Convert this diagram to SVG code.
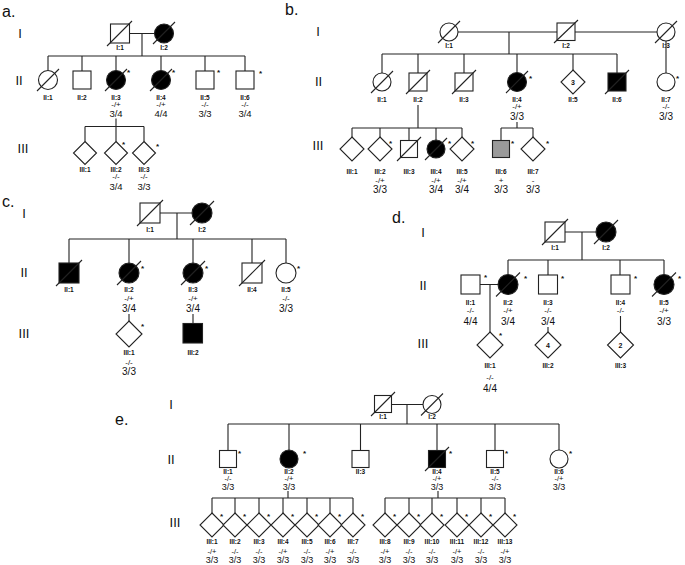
<svg xmlns="http://www.w3.org/2000/svg" width="685" height="565" viewBox="0 0 685 565">
<style>
.ln{stroke:#222;stroke-width:1.1;fill:none}
.o{fill:#fff;stroke:#222;stroke-width:1.1}
.f{fill:#000;stroke:#222;stroke-width:1.1}
.g{fill:#9a9a9a;stroke:#222;stroke-width:1.1}
.sl{stroke:#222;stroke-width:1.1}
text{font-family:'Liberation Sans',Arial,sans-serif;fill:#111;text-anchor:middle}
.id{font-size:6.5px;font-weight:bold}
.gt{font-size:8px}
.nm{font-size:10px}
.nma{font-size:9.5px}
.gte{font-size:7.5px}
.nme{font-size:9px}
.as{font-size:8px;font-weight:bold;text-anchor:start}
.gen{font-size:13px}
.pl{font-size:16px;text-anchor:start}
.ne{font-size:7px;font-weight:bold}
</style>
<rect width="685" height="565" fill="#fff"/>

<g id="labels">
<text class="pl" x="2" y="17">a.</text>
<text class="gen" x="20" y="37.5">I</text>
<text class="gen" x="19" y="85">II</text>
<text class="gen" x="23" y="153">III</text>
<text class="pl" x="285" y="15">b.</text>
<text class="gen" x="318" y="36">I</text>
<text class="gen" x="318.5" y="86">II</text>
<text class="gen" x="318" y="150">III</text>
<text class="pl" x="2" y="207">c.</text>
<text class="gen" x="24" y="218">I</text>
<text class="gen" x="24" y="277">II</text>
<text class="gen" x="24" y="338">III</text>
<text class="pl" x="392" y="223">d.</text>
<text class="gen" x="423" y="237">I</text>
<text class="gen" x="423" y="290">II</text>
<text class="gen" x="423" y="348">III</text>
<text class="pl" x="115" y="425">e.</text>
<text class="gen" x="171" y="409">I</text>
<text class="gen" x="171" y="464">II</text>
<text class="gen" x="175" y="527">III</text>
</g>

<g id="connectors" class="ln">
<path d="M129.5,33.5H154.5M142,33.5V56M48,56H245M48,56V70.5M82,56V71M116,56V70.5M161,56V70.5M205,56V71M245,56V71"/>
<path d="M116,118.5V126.5M85,126.5H144M85,126.5V141.5M116,126.5V141.5M144,126.5V141.5"/>
<path d="M458,32H557M575,32H657M509,32V54M382,54H617M382,54V73M418,54V73M464,54V73M517,54V73M573,54V70M617,54V73M666,41V73"/>
<path d="M418,105V128M352,128H462M352,128V137M380,128V137M409,128V140.5M436,128V140M462,128V137"/>
<path d="M517,122V128M501,128H533M501,128V140.5M533,128V137"/>
<path d="M160,213H192M177,213V239M69,239H286M69,239V263M129,239V263M193,239V263M252,239V263M286,239V263"/>
<path d="M129,314V321M193,314V323.5"/>
<path d="M565,232H596M582,232V260M508,260H664M508,260V274.5M548,260V275M620,260V275M664,260V274.5"/>
<path d="M480,284.5H498M490,284.5V332M548,327V332M620.5,316V332"/>
<path d="M391.5,404.5H423M407,404.5V424M228,424H559M228,424V450.5M289,424V450M360.5,424V450.5M437,424V450.5M495,424V450.5M559,424V450"/>
<path d="M288,491V498M212,498H353M212,498V513M235,498V513M259,498V513M283,498V513M307,498V513M330,498V513M353,498V513"/>
<path d="M438,491V498M385,498H505M385,498V513M409,498V513M432,498V513M457,498V513M481,498V513M505,498V513"/>
</g>

<g id="a-I1"><rect class="o" x="110.5" y="24" width="19" height="19"/><line class="sl" x1="107" y1="46" x2="132" y2="21"/><text class="id" x="120" y="49.5">I:1</text></g>
<g id="a-I2"><circle class="f" cx="164" cy="33.5" r="9.5"/><line class="sl" x1="153" y1="44" x2="175" y2="22"/><text class="id" x="164" y="49.5">I:2</text></g>
<g id="a-II1"><circle class="o" cx="48" cy="80" r="9.5"/><line class="sl" x1="37" y1="91" x2="59" y2="69"/><text class="id" x="48" y="99.5">II:1</text></g>
<g id="a-II2"><rect class="o" x="73" y="71" width="18" height="18"/><text class="id" x="82" y="99.5">II:2</text></g>
<g id="a-II3"><circle class="f" cx="116" cy="80" r="9.5"/><line class="sl" x1="105" y1="91" x2="127" y2="69"/><text class="as" x="127" y="75">*</text><text class="id" x="116" y="99.5">II:3</text><text class="gt" x="116" y="106.5">-/+</text><text class="nma" x="116" y="117">3/4</text></g>
<g id="a-II4"><circle class="f" cx="161" cy="80" r="9.5"/><line class="sl" x1="150" y1="91" x2="172" y2="69"/><text class="as" x="172" y="75">*</text><text class="id" x="161" y="99.5">II:4</text><text class="gt" x="161" y="106.5">-/+</text><text class="nma" x="161" y="117">4/4</text></g>
<g id="a-II5"><rect class="o" x="196" y="71" width="18" height="18"/><text class="as" x="217" y="75">*</text><text class="id" x="205" y="99.5">II:5</text><text class="gt" x="205" y="106.5">-/-</text><text class="nma" x="205" y="117">3/3</text></g>
<g id="a-II6"><rect class="o" x="236" y="71" width="18" height="18"/><text class="as" x="259" y="76">*</text><text class="id" x="245" y="99.5">II:6</text><text class="gt" x="245" y="106.5">-/-</text><text class="nma" x="245" y="117">3/4</text></g>
<g id="a-III1"><polygon class="o" points="85,141.5 96.5,153 85,164.5 73.5,153"/><text class="id" x="85" y="172">III:1</text></g>
<g id="a-III2"><polygon class="o" points="116,141.5 127.5,153 116,164.5 104.5,153"/><text class="as" x="122" y="146.5">*</text><text class="id" x="116" y="172">III:2</text><text class="gt" x="116" y="179">-/-</text><text class="nma" x="116" y="189.5">3/4</text></g>
<g id="a-III3"><polygon class="o" points="144,141.5 155.5,153 144,164.5 132.5,153"/><text class="as" x="156" y="148.5">*</text><text class="id" x="144" y="172">III:3</text><text class="gt" x="144" y="179">-/-</text><text class="nma" x="144" y="189.5">3/3</text></g>

<g id="b-I1"><circle class="o" cx="449" cy="32" r="9"/><line class="sl" x1="438" y1="43" x2="460" y2="21"/><text class="id" x="449" y="48">I:1</text></g>
<g id="b-I2"><rect class="o" x="557" y="23" width="18" height="17.5"/><line class="sl" x1="554" y1="43" x2="578" y2="20"/><text class="id" x="566" y="48">I:2</text></g>
<g id="b-I3"><circle class="o" cx="666" cy="32" r="9"/><line class="sl" x1="655" y1="43" x2="677" y2="21"/><text class="id" x="666" y="48">I:3</text></g>
<g id="b-II1"><circle class="o" cx="382" cy="82" r="9"/><line class="sl" x1="371" y1="93" x2="393" y2="71"/><text class="id" x="382" y="102">II:1</text></g>
<g id="b-II2"><rect class="o" x="409" y="73" width="18" height="18"/><line class="sl" x1="406" y1="94" x2="430" y2="70"/><text class="id" x="418" y="102">II:2</text></g>
<g id="b-II3"><rect class="o" x="455" y="73" width="18" height="18"/><line class="sl" x1="452" y1="94" x2="476" y2="70"/><text class="id" x="464" y="102">II:3</text></g>
<g id="b-II4"><circle class="f" cx="517" cy="82" r="9.5"/><line class="sl" x1="506" y1="93" x2="528" y2="71"/><text class="as" x="529" y="80.5">*</text><text class="id" x="517" y="102">II:4</text><text class="gt" x="517" y="109">-/+</text><text class="nm" x="517" y="120">3/3</text></g>
<g id="b-II5"><polygon class="o" points="573,70 585,82 573,94 561,82"/><text class="ne" x="573" y="84.5">3</text><text class="id" x="573" y="102">II:5</text></g>
<g id="b-II6"><rect class="f" x="608" y="73" width="18" height="18"/><line class="sl" x1="605" y1="94" x2="629" y2="70"/><text class="id" x="617" y="102">II:6</text></g>
<g id="b-II7"><circle class="o" cx="666" cy="82" r="9"/><text class="as" x="676" y="80.5">*</text><text class="id" x="666" y="102">II:7</text><text class="gt" x="666" y="109">-/-</text><text class="nm" x="666" y="120">3/3</text></g>
<g id="b-III1"><polygon class="o" points="352,137 364,149 352,161 340,149"/><text class="id" x="352" y="174">III:1</text></g>
<g id="b-III2"><polygon class="o" points="380,137 392,149 380,161 368,149"/><text class="as" x="389" y="145.5">*</text><text class="id" x="380" y="174">III:2</text><text class="gt" x="380" y="183">-/+</text><text class="nm" x="380" y="193">3/3</text></g>
<g id="b-III3"><rect class="o" x="400.5" y="140.5" width="17" height="17"/><line class="sl" x1="397" y1="161" x2="421" y2="137"/><text class="id" x="409" y="174">III:3</text></g>
<g id="b-III4"><circle class="f" cx="436" cy="149" r="9"/><line class="sl" x1="425" y1="160" x2="447" y2="138"/><text class="as" x="448" y="145.5">*</text><text class="id" x="436" y="174">III:4</text><text class="gt" x="436" y="183">-/+</text><text class="nm" x="436" y="193">3/4</text></g>
<g id="b-III5"><polygon class="o" points="462,137 474,149 462,161 450,149"/><text class="as" x="471" y="145.5">*</text><text class="id" x="462" y="174">III:5</text><text class="gt" x="462" y="183">-/+</text><text class="nm" x="462" y="193">3/4</text></g>
<g id="b-III6"><rect class="g" x="492.5" y="140.5" width="17" height="17"/><text class="as" x="511" y="145.5">*</text><text class="id" x="501" y="174">III:6</text><text class="gt" x="501" y="183">+</text><text class="nm" x="501" y="193">3/3</text></g>
<g id="b-III7"><polygon class="o" points="533,137 545,149 533,161 521,149"/><text class="as" x="546" y="145.5">*</text><text class="id" x="533" y="174">III:7</text><text class="gt" x="533" y="183">-</text><text class="nm" x="533" y="193">3/3</text></g>

<g id="c-I1"><rect class="o" x="140" y="203" width="20" height="20"/><line class="sl" x1="137" y1="226" x2="163" y2="200"/><text class="id" x="150" y="232">I:1</text></g>
<g id="c-I2"><circle class="f" cx="202" cy="213" r="10"/><line class="sl" x1="190" y1="225" x2="214" y2="201"/><text class="id" x="202" y="232">I:2</text></g>
<g id="c-II1"><rect class="f" x="59" y="263" width="20" height="20"/><line class="sl" x1="56" y1="286" x2="82" y2="260"/><text class="id" x="69" y="292">II:1</text></g>
<g id="c-II2"><circle class="f" cx="129" cy="273" r="10"/><line class="sl" x1="117" y1="285" x2="141" y2="261"/><text class="as" x="141" y="270.5">*</text><text class="id" x="129" y="292">II:2</text><text class="gt" x="129" y="301">-/+</text><text class="nm" x="129" y="312">3/4</text></g>
<g id="c-II3"><circle class="f" cx="193" cy="273" r="10"/><line class="sl" x1="181" y1="285" x2="205" y2="261"/><text class="as" x="205" y="270.5">*</text><text class="id" x="193" y="292">II:3</text><text class="gt" x="193" y="301">-/+</text><text class="nm" x="193" y="312">3/4</text></g>
<g id="c-II4"><rect class="o" x="242" y="263" width="20" height="20"/><line class="sl" x1="239" y1="286" x2="265" y2="260"/><text class="id" x="252" y="292">II:4</text></g>
<g id="c-II5"><circle class="o" cx="286" cy="273" r="10"/><text class="as" x="297" y="270.5">*</text><text class="id" x="286" y="292">II:5</text><text class="gt" x="286" y="301">-/-</text><text class="nm" x="286" y="312">3/3</text></g>
<g id="c-III1"><polygon class="o" points="129,321 142,334 129,347 116,334"/><text class="as" x="141" y="328.5">*</text><text class="id" x="129" y="355">III:1</text><text class="gt" x="129" y="365">-/-</text><text class="nm" x="129" y="375">3/3</text></g>
<g id="c-III2"><rect class="f" x="183" y="323.5" width="19.5" height="19.5"/><text class="id" x="193" y="355">III:2</text></g>

<g id="d-I1"><rect class="o" x="545" y="222" width="20" height="20"/><line class="sl" x1="542" y1="245" x2="568" y2="219"/><text class="id" x="555" y="250">I:1</text></g>
<g id="d-I2"><circle class="f" cx="606" cy="232" r="10"/><line class="sl" x1="594" y1="244" x2="618" y2="220"/><text class="id" x="606" y="250">I:2</text></g>
<g id="d-II1"><rect class="o" x="461" y="275" width="19" height="19"/><text class="as" x="484" y="279.5">*</text><text class="id" x="470.5" y="304.5">II:1</text><text class="gt" x="470.5" y="313">-/-</text><text class="nm" x="470.5" y="325">4/4</text></g>
<g id="d-II2"><circle class="f" cx="508" cy="284.5" r="10"/><line class="sl" x1="496" y1="296.5" x2="520" y2="272.5"/><text class="as" x="524" y="280.5">*</text><text class="id" x="508" y="304.5">II:2</text><text class="gt" x="508" y="313">-/+</text><text class="nm" x="508" y="325">3/4</text></g>
<g id="d-II3"><rect class="o" x="538.5" y="275" width="19" height="19"/><text class="as" x="561" y="280.5">*</text><text class="id" x="548" y="304.5">II:3</text><text class="gt" x="548" y="313">-/-</text><text class="nm" x="548" y="325">3/4</text></g>
<g id="d-II4"><rect class="o" x="611" y="275" width="19" height="19"/><text class="as" x="634" y="280.5">*</text><text class="id" x="620.5" y="304.5">II:4</text><text class="gt" x="620.5" y="313">-/-</text></g>
<g id="d-II5"><circle class="f" cx="664" cy="284.5" r="10"/><line class="sl" x1="652" y1="296.5" x2="676" y2="272.5"/><text class="as" x="678" y="280.5">*</text><text class="id" x="664" y="304.5">II:5</text><text class="gt" x="664" y="313">-/+</text><text class="nm" x="664" y="325">3/3</text></g>
<g id="d-III1"><polygon class="o" points="490,332 503,345 490,358 477,345"/><text class="as" x="499" y="337.5">*</text><text class="id" x="490" y="368">III:1</text><text class="gt" x="490" y="380">-/-</text><text class="nm" x="490" y="392">4/4</text></g>
<g id="d-III2"><polygon class="o" points="548,332 561,345 548,358 535,345"/><text class="ne" x="548" y="347.5">4</text><text class="id" x="548" y="368">III:2</text></g>
<g id="d-III3"><polygon class="o" points="620.5,332 633.5,345 620.5,358 607.5,345"/><text class="ne" x="620.5" y="347.5">2</text><text class="id" x="620.5" y="368">III:3</text></g>

<g id="e-I1"><rect class="o" x="374.5" y="395.5" width="17" height="17"/><line class="sl" x1="371" y1="416" x2="395" y2="392"/><text class="id" x="383" y="419">I:1</text></g>
<g id="e-I2"><circle class="o" cx="432" cy="404.5" r="9"/><line class="sl" x1="421" y1="415.5" x2="443" y2="393.5"/><text class="id" x="432" y="419">I:2</text></g>
<g id="e-II1"><rect class="o" x="219.5" y="450.5" width="17" height="17"/><text class="as" x="238" y="455.5">*</text><text class="id" x="228" y="473.5">II:1</text><text class="gte" x="228" y="481">-/-</text><text class="nme" x="228" y="490">3/3</text></g>
<g id="e-II2"><circle class="f" cx="289" cy="459" r="9"/><text class="as" x="303" y="455.5">*</text><text class="id" x="289" y="473.5">II:2</text><text class="gte" x="289" y="481">-/+</text><text class="nme" x="289" y="490">3/3</text></g>
<g id="e-II3"><rect class="o" x="352" y="450.5" width="17" height="17"/><text class="id" x="360.5" y="473.5">II:3</text></g>
<g id="e-II4"><rect class="f" x="428.5" y="450.5" width="17" height="17"/><line class="sl" x1="425" y1="471" x2="449" y2="447"/><text class="as" x="449" y="455.5">*</text><text class="id" x="437" y="473.5">II:4</text><text class="gte" x="437" y="481">-/+</text><text class="nme" x="437" y="490">3/3</text></g>
<g id="e-II5"><rect class="o" x="486.5" y="450.5" width="17" height="17"/><text class="as" x="505" y="455.5">*</text><text class="id" x="495" y="473.5">II:5</text><text class="gte" x="495" y="481">-/-</text><text class="nme" x="495" y="490">3/3</text></g>
<g id="e-II6"><circle class="o" cx="559" cy="459" r="9"/><text class="as" x="569" y="455.5">*</text><text class="id" x="559" y="473.5">II:6</text><text class="gte" x="559" y="481">-/+</text><text class="nme" x="559" y="490">3/3</text></g>
<g id="e-III1"><polygon class="o" points="212,513 224,525 212,537 200,525"/><text class="as" x="220" y="518.5">*</text><text class="id" x="212" y="543.5">III:1</text><text class="gte" x="212" y="554">-/+</text><text class="nme" x="212" y="563">3/3</text></g>
<g id="e-III2"><polygon class="o" points="235,513 247,525 235,537 223,525"/><text class="as" x="243" y="518.5">*</text><text class="id" x="235" y="543.5">III:2</text><text class="gte" x="235" y="554">-/-</text><text class="nme" x="235" y="563">3/3</text></g>
<g id="e-III3"><polygon class="o" points="259,513 271,525 259,537 247,525"/><text class="as" x="267" y="518.5">*</text><text class="id" x="259" y="543.5">III:3</text><text class="gte" x="259" y="554">-/-</text><text class="nme" x="259" y="563">3/3</text></g>
<g id="e-III4"><polygon class="o" points="283,513 295,525 283,537 271,525"/><text class="as" x="291" y="518.5">*</text><text class="id" x="283" y="543.5">III:4</text><text class="gte" x="283" y="554">-/+</text><text class="nme" x="283" y="563">3/3</text></g>
<g id="e-III5"><polygon class="o" points="307,513 319,525 307,537 295,525"/><text class="as" x="315" y="518.5">*</text><text class="id" x="307" y="543.5">III:5</text><text class="gte" x="307" y="554">-/-</text><text class="nme" x="307" y="563">3/3</text></g>
<g id="e-III6"><polygon class="o" points="330,513 342,525 330,537 318,525"/><text class="as" x="338" y="518.5">*</text><text class="id" x="330" y="543.5">III:6</text><text class="gte" x="330" y="554">-/+</text><text class="nme" x="330" y="563">3/3</text></g>
<g id="e-III7"><polygon class="o" points="353,513 365,525 353,537 341,525"/><text class="as" x="361" y="518.5">*</text><text class="id" x="353" y="543.5">III:7</text><text class="gte" x="353" y="554">-/-</text><text class="nme" x="353" y="563">3/3</text></g>
<g id="e-III8"><polygon class="o" points="385,513 397,525 385,537 373,525"/><text class="as" x="393" y="518.5">*</text><text class="id" x="385" y="543.5">III:8</text><text class="gte" x="385" y="554">-/+</text><text class="nme" x="385" y="563">3/3</text></g>
<g id="e-III9"><polygon class="o" points="409,513 421,525 409,537 397,525"/><text class="as" x="417" y="518.5">*</text><text class="id" x="409" y="543.5">III:9</text><text class="gte" x="409" y="554">-/-</text><text class="nme" x="409" y="563">3/3</text></g>
<g id="e-III10"><polygon class="o" points="432,513 444,525 432,537 420,525"/><text class="as" x="440" y="518.5">*</text><text class="id" x="432" y="543.5">III:10</text><text class="gte" x="432" y="554">-/-</text><text class="nme" x="432" y="563">3/3</text></g>
<g id="e-III11"><polygon class="o" points="457,513 469,525 457,537 445,525"/><text class="as" x="465" y="518.5">*</text><text class="id" x="457" y="543.5">III:11</text><text class="gte" x="457" y="554">-/+</text><text class="nme" x="457" y="563">3/3</text></g>
<g id="e-III12"><polygon class="o" points="481,513 493,525 481,537 469,525"/><text class="as" x="489" y="518.5">*</text><text class="id" x="481" y="543.5">III:12</text><text class="gte" x="481" y="554">-/-</text><text class="nme" x="481" y="563">3/3</text></g>
<g id="e-III13"><polygon class="o" points="505,513 517,525 505,537 493,525"/><text class="as" x="513" y="518.5">*</text><text class="id" x="505" y="543.5">III:13</text><text class="gte" x="505" y="554">-/+</text><text class="nme" x="505" y="563">3/3</text></g>
</svg>
